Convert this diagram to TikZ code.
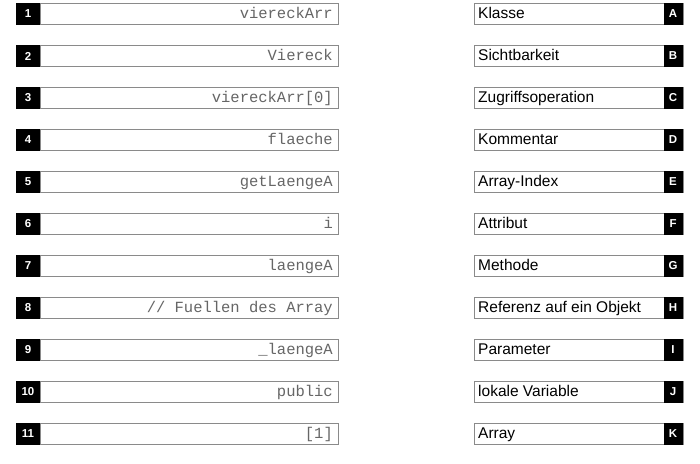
\documentclass[tikz,border=0pt]{standalone}
\usepackage{fontspec}
\setmainfont{Liberation Sans}
\newfontfamily\codefont{Liberation Mono}
\definecolor{boxline}{HTML}{8A8A8A}
\definecolor{codegray}{HTML}{666666}
\begin{document}
\begin{tikzpicture}[x=1pt,y=-1pt,
  leftbox/.style={draw=boxline,line width=1.2pt,fill=white,minimum width=298pt,minimum height=21pt,inner sep=0pt,anchor=west},
  rightbox/.style={draw=boxline,line width=1.2pt,fill=white,minimum width=209pt,minimum height=21pt,inner sep=0pt,anchor=west},
  numsq/.style={fill=black,minimum width=24pt,minimum height=22pt,inner sep=0pt,text=white,font=\bfseries\fontsize{11.5}{12}\selectfont},
  letsq/.style={fill=black,minimum width=19pt,minimum height=22pt,inner sep=0pt,text=white,font=\bfseries\fontsize{11.5}{12}\selectfont},
  codetext/.style={anchor=base east,inner sep=0pt,text=codegray,font=\codefont\fontsize{15.5}{18}\selectfont},
  termtext/.style={anchor=base west,inner sep=0pt,text=black,font=\fontsize{15.5}{17}\selectfont}
]
\useasboundingbox (0,0) rectangle (700,463);
\foreach \i/\code/\letter/\term in {
  1/{viereckArr}/A/Klasse,
  2/{Viereck}/B/Sichtbarkeit,
  3/{viereckArr[0]}/C/Zugriffsoperation,
  4/{flaeche}/D/Kommentar,
  5/{getLaengeA}/E/Array-Index,
  6/{i}/F/Attribut,
  7/{laengeA}/G/Methode,
  8/{{/}{/} Fuellen des Array}/H/{Referenz auf ein Objekt},
  9/{\_laengeA}/I/Parameter,
  10/{public}/J/{lokale Variable},
  11/{[1]}/K/Array}{
  \pgfmathsetmacro{\yy}{14+42*(\i-1)}
  \pgfmathsetmacro{\yb}{\yy+4.8}
  \node[leftbox] (L\i) at (40,\yy) {};
  \node[numsq] (N\i) at (28,\yy) {\i};
  \node[codetext] (C\i) at (333,\yb) {\code};
  \node[rightbox] (R\i) at (473.5,\yy) {};
  \node[letsq] (S\i) at (673,\yy) {\letter};
  \node[termtext] (T\i) at (478,\yb) {\term};
}
\end{tikzpicture}
\end{document}
